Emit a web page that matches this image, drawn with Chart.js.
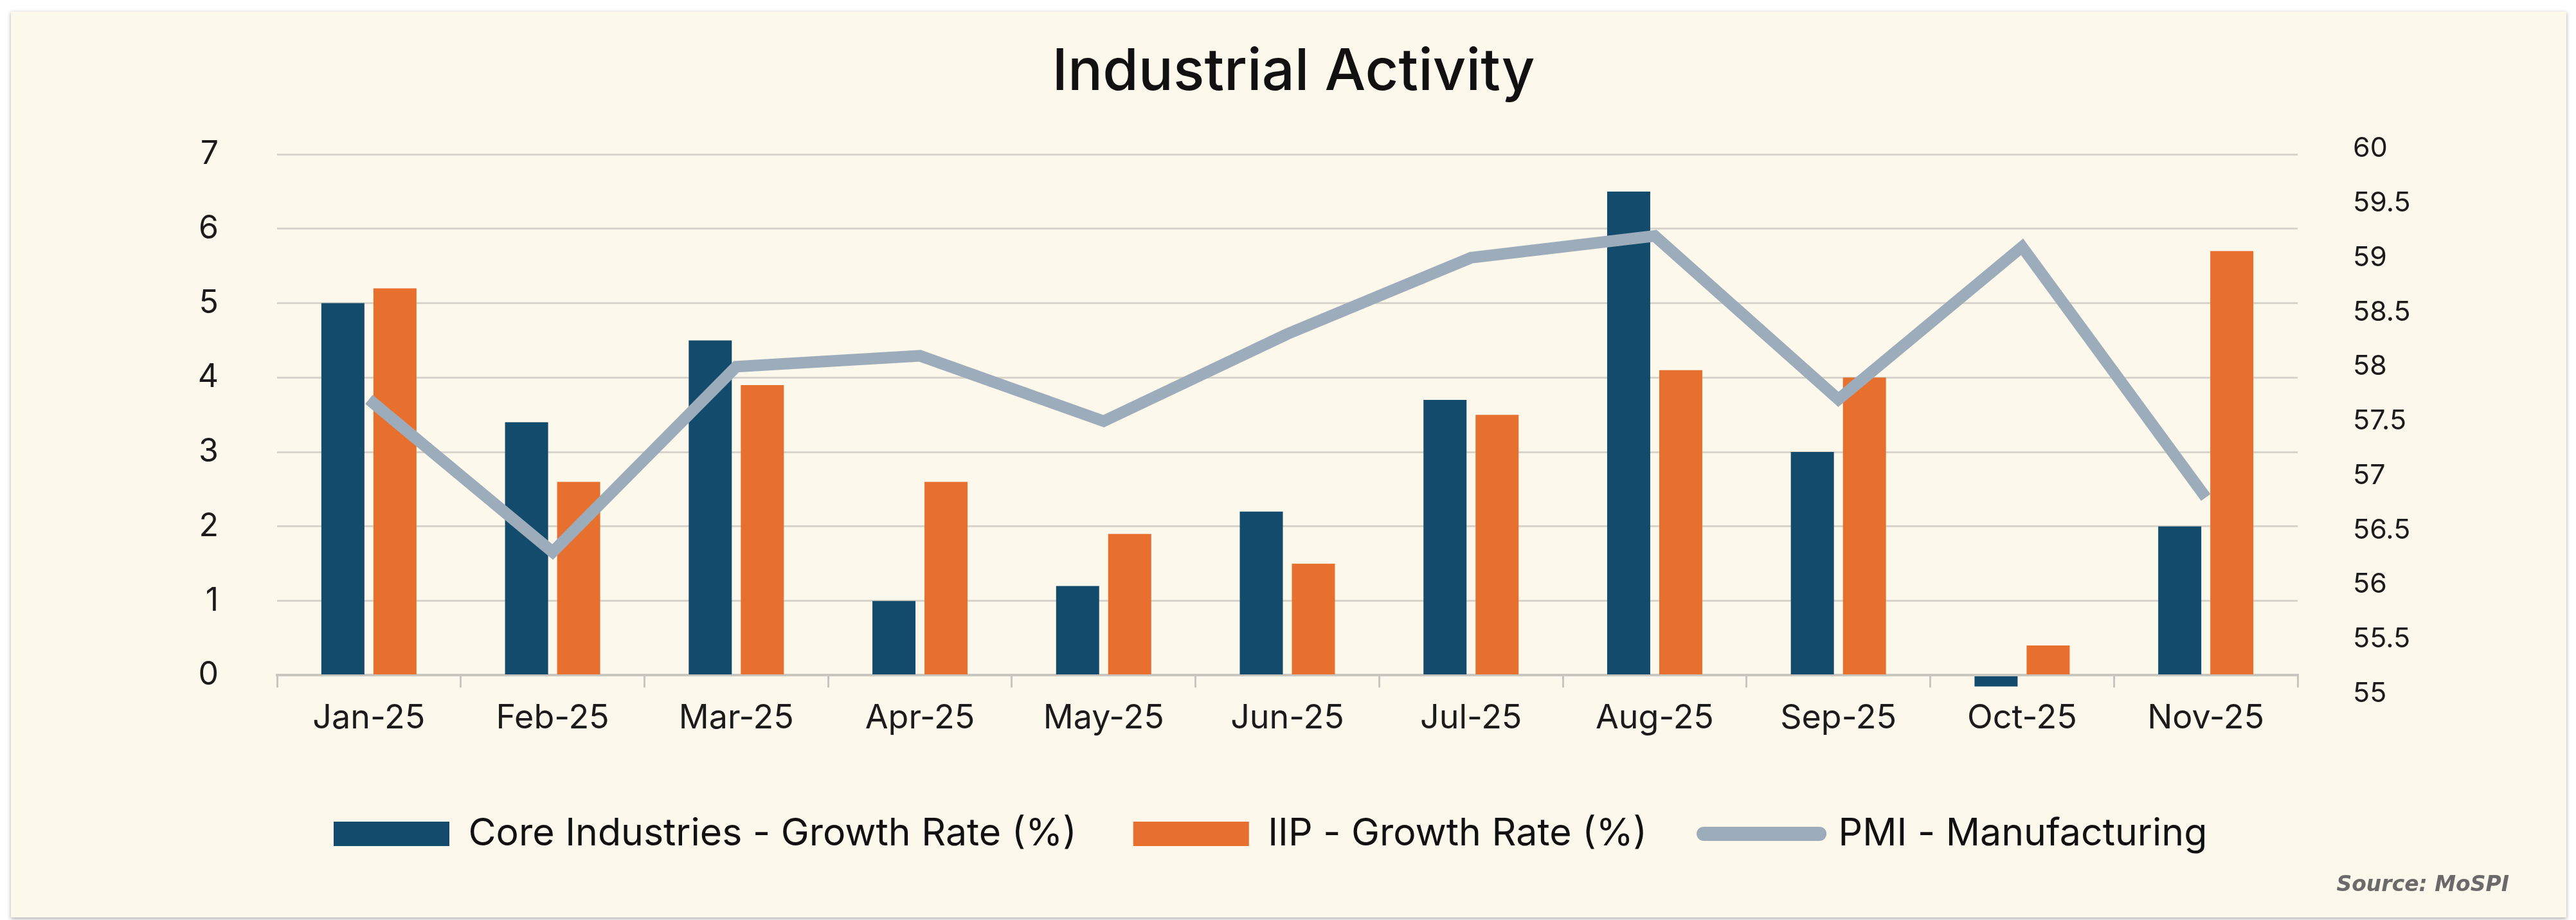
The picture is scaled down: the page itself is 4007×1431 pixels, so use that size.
<!DOCTYPE html>
<html>
<head>
<meta charset="utf-8">
<title>Industrial Activity</title>
<script src="https://cdn.jsdelivr.net/npm/chart.js@4.4.1/dist/chart.umd.min.js"></script>
<style>
  html, body { margin: 0; padding: 0; background: #ffffff; width: 4007px; height: 1431px; overflow: hidden; }
  #card {
    position: absolute; left: 17px; top: 18px; width: 3975px; height: 1409px;
    background: #FCF8EB; box-shadow: 0 2px 6px rgba(0, 0, 0, 0.35);
  }
  #wrap { position: absolute; left: 0; top: 0; width: 4007px; height: 1431px; }
</style>
</head>
<body>
<div id="card"></div>
<div id="wrap"><canvas id="chart" width="4007" height="1431"></canvas></div>
<script>
// Monthly categories
const months = ['Jan-25', 'Feb-25', 'Mar-25', 'Apr-25', 'May-25', 'Jun-25',
                'Jul-25', 'Aug-25', 'Sep-25', 'Oct-25', 'Nov-25'];

// Growth rates (%), left axis
const coreGrowth = [5.0, 3.4, 4.5, 1.0, 1.2, 2.2, 3.7, 6.5, 3.0, -0.15, 2.0];
const iipGrowth  = [5.2, 2.6, 3.9, 2.6, 1.9, 1.5, 3.5, 4.1, 4.0, 0.4, 5.7];

// Manufacturing PMI, right axis
const pmiManufacturing = [57.7, 56.3, 58.0, 58.1, 57.5, 58.3, 59.0, 59.2, 57.7, 59.1, 56.8];

// Tick labels
const growthTicks = [0, 1, 2, 3, 4, 5, 6, 7];
const pmiTicks = [55, 55.5, 56, 56.5, 57, 57.5, 58, 58.5, 59, 59.5, 60];

const NAVY = '#124B6B';
const ORANGE = '#E8702F';
const SLATE = '#9DACBB';
const GRID = '#D8D4CB';
const AXIS = '#C9C6C0';
const INK = '#1b1b1b';

Chart.defaults.font.family = 'Inter, "Noto Sans", sans-serif';
Chart.defaults.color = INK;

const defaultLabels = Chart.defaults.plugins.legend.labels.generateLabels;

new Chart(document.getElementById('chart'), {
  type: 'bar',
  data: {
    labels: months,
    datasets: [
      {
        label: 'Core Industries - Growth Rate (%)',
        data: coreGrowth,
        backgroundColor: NAVY,
        yAxisID: 'y',
        barPercentage: 0.827,
        categoryPercentage: 0.567,
        clip: false,
        order: 1
      },
      {
        label: 'IIP - Growth Rate (%)',
        data: iipGrowth,
        backgroundColor: ORANGE,
        yAxisID: 'y',
        barPercentage: 0.827,
        categoryPercentage: 0.567,
        clip: false,
        order: 1
      },
      {
        type: 'line',
        label: 'PMI - Manufacturing',
        data: pmiManufacturing,
        yAxisID: 'y1',
        borderColor: SLATE,
        backgroundColor: SLATE,
        borderWidth: 18,
        borderJoinStyle: 'miter',
        pointRadius: 0,
        tension: 0,
        order: 0
      }
    ]
  },
  options: {
    responsive: false,
    devicePixelRatio: 1,
    animation: false,
    events: [],
    layout: { padding: { left: 121, right: 104, top: 0, bottom: 34 } },
    plugins: {
      tooltip: { enabled: false },
      title: {
        display: true,
        text: 'Industrial Activity',
        color: '#111111',
        font: { size: 90, weight: '500' },
        lineHeight: 1.2,
        padding: { top: 59, bottom: 73 }
      },
      subtitle: {
        display: true,
        text: 'Source: MoSPI',
        position: 'bottom',
        align: 'end',
        color: '#6a6a6a',
        font: { size: 33, style: 'italic', weight: 'bold', family: '"DejaVu Sans", sans-serif' },
        lineHeight: 1.2,
        padding: { top: 21, bottom: 0 }
      },
      legend: {
        display: true,
        position: 'bottom',
        align: 'start',
        fullSize: false,
        labels: {
          color: '#111111',
          font: { size: 59 },
          usePointStyle: true,
          pointStyleWidth: 180,
          boxHeight: 38,
          padding: 88,
          generateLabels(chart) {
            const items = defaultLabels(chart);
            items.forEach(item => {
              const ds = chart.data.datasets[item.datasetIndex];
              if (ds.type === 'line') {
                item.pointStyle = 'line';
                item.lineCap = 'round';
                item.lineWidth = 22;
                item.strokeStyle = SLATE;
              } else {
                item.pointStyle = 'rect';
                item.lineWidth = 0;
              }
            });
            return items.sort((a, b) => a.datasetIndex - b.datasetIndex);
          }
        }
      }
    },
    scales: {
      x: {
        grid: {
          display: true, drawOnChartArea: false, drawTicks: true,
          tickLength: 19, color: AXIS, lineWidth: 3, offset: true
        },
        border: { display: true, color: AXIS, width: 4 },
        ticks: { font: { size: 52 }, color: INK, padding: 17, maxRotation: 0 },
        afterFit(scale) { scale.height = 129; }
      },
      y: {
        position: 'left',
        min: 0,
        max: 7,
        afterBuildTicks(scale) { scale.ticks = growthTicks.map(v => ({ value: v })); },
        grid: { color: GRID, lineWidth: 3, drawTicks: false },
        border: { display: false },
        ticks: { font: { size: 50 }, color: INK, padding: 91, autoSkip: false },
        afterFit(scale) { scale.width = 310; }
      },
      y1: {
        position: 'right',
        min: 55.168,
        max: 59.949,
        afterBuildTicks(scale) { scale.ticks = pmiTicks.map(v => ({ value: v })); },
        grid: { display: false, drawTicks: false },
        border: { display: false },
        ticks: { font: { size: 43 }, color: INK, padding: 86, autoSkip: false,
                 callback: v => String(v) },
        afterFit(scale) { scale.width = 329; }
      }
    }
  }
});
</script>
</body>
</html>
